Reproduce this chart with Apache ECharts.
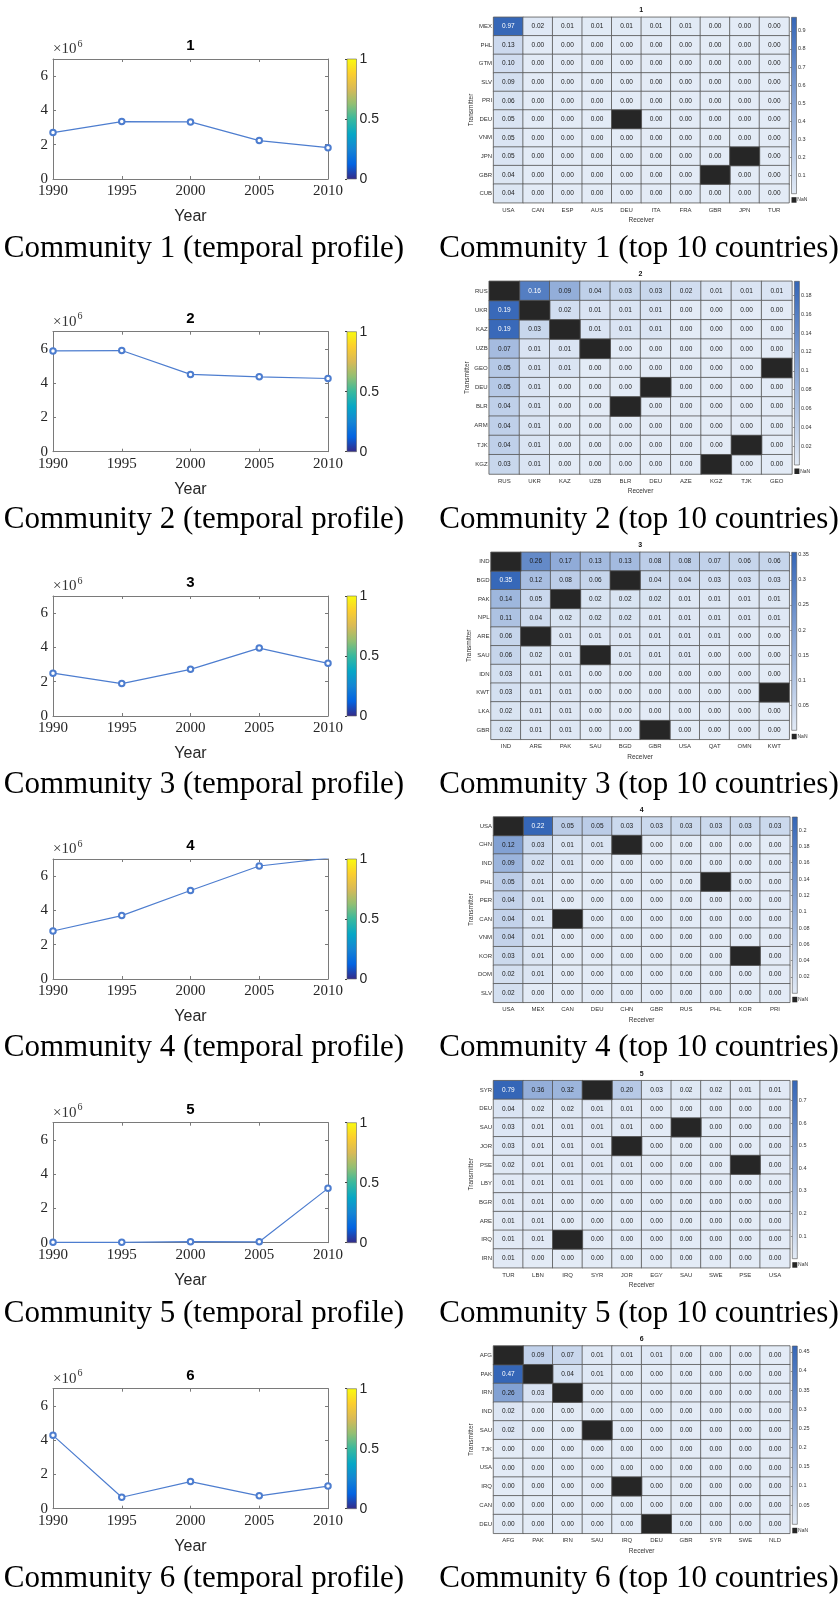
<!DOCTYPE html>
<html><head><meta charset="utf-8">
<script src="https://cdn.jsdelivr.net/npm/echarts@6/dist/echarts.min.js"></script>
<style>html,body{margin:0;padding:0;background:#fff}#c{width:839px;height:1598px}</style>
</head><body><div id="c"></div>
<script>
// ---------- DATA ----------
const years = [1990, 1995, 2000, 2005, 2010];
// temporal profiles (x10^6)
const profile1 = [2.71, 3.35, 3.33, 2.24, 1.83];
const profile2 = [5.88, 5.90, 4.51, 4.37, 4.27];
const profile3 = [2.50, 1.89, 2.72, 3.96, 3.07];
const profile4 = [2.80, 3.70, 5.16, 6.59, 7.05];
const profile5 = [0.02, 0.02, 0.06, 0.05, 3.17];
const profile6 = [4.28, 0.67, 1.58, 0.75, 1.32];

const rows1 = ['MEX','PHL','GTM','SLV','PRI','DEU','VNM','JPN','GBR','CUB'];
const cols1 = ['USA','CAN','ESP','AUS','DEU','ITA','FRA','GBR','JPN','TUR'];
const vals1 = [
 [0.97,0.02,0.01,0.01,0.01,0.01,0.01,0.00,0.00,0.00],
 [0.13,0,0,0,0,0,0,0,0,0],
 [0.10,0,0,0,0,0,0,0,0,0],
 [0.09,0,0,0,0,0,0,0,0,0],
 [0.06,0,0,0,0,0,0,0,0,0],
 [0.05,0,0,0,null,0,0,0,0,0],
 [0.05,0,0,0,0,0,0,0,0,0],
 [0.05,0,0,0,0,0,0,0,null,0],
 [0.04,0,0,0,0,0,0,null,0,0],
 [0.04,0,0,0,0,0,0,0,0,0]];

const rows2 = ['RUS','UKR','KAZ','UZB','GEO','DEU','BLR','ARM','TJK','KGZ'];
const cols2 = ['RUS','UKR','KAZ','UZB','BLR','DEU','AZE','KGZ','TJK','GEO'];
const vals2 = [
 [null,0.16,0.09,0.04,0.03,0.03,0.02,0.01,0.01,0.01],
 [0.19,null,0.02,0.01,0.01,0.01,0,0,0,0],
 [0.19,0.03,null,0.01,0.01,0.01,0,0,0,0],
 [0.07,0.01,0.01,null,0,0,0,0,0,0],
 [0.05,0.01,0.01,0,0,0,0,0,0,null],
 [0.05,0.01,0,0,0,null,0,0,0,0],
 [0.04,0.01,0,0,null,0,0,0,0,0],
 [0.04,0.01,0,0,0,0,0,0,0,0],
 [0.04,0.01,0,0,0,0,0,0,null,0],
 [0.03,0.01,0,0,0,0,0,null,0,0]];

const rows3 = ['IND','BGD','PAK','NPL','ARE','SAU','IDN','KWT','LKA','GBR'];
const cols3 = ['IND','ARE','PAK','SAU','BGD','GBR','USA','QAT','OMN','KWT'];
const vals3 = [
 [null,0.26,0.17,0.13,0.13,0.08,0.08,0.07,0.06,0.06],
 [0.35,0.12,0.08,0.06,null,0.04,0.04,0.03,0.03,0.03],
 [0.14,0.05,null,0.02,0.02,0.02,0.01,0.01,0.01,0.01],
 [0.11,0.04,0.02,0.02,0.02,0.01,0.01,0.01,0.01,0.01],
 [0.06,null,0.01,0.01,0.01,0.01,0.01,0.01,0,0],
 [0.06,0.02,0.01,null,0.01,0.01,0.01,0,0,0],
 [0.03,0.01,0.01,0,0,0,0,0,0,0],
 [0.03,0.01,0.01,0,0,0,0,0,0,null],
 [0.02,0.01,0.01,0,0,0,0,0,0,0],
 [0.02,0.01,0.01,0,0,null,0,0,0,0]];

const rows4 = ['USA','CHN','IND','PHL','PER','CAN','VNM','KOR','DOM','SLV'];
const cols4 = ['USA','MEX','CAN','DEU','CHN','GBR','RUS','PHL','KOR','PRI'];
const vals4 = [
 [null,0.22,0.05,0.05,0.03,0.03,0.03,0.03,0.03,0.03],
 [0.12,0.03,0.01,0.01,null,0,0,0,0,0],
 [0.09,0.02,0.01,0,0,0,0,0,0,0],
 [0.05,0.01,0,0,0,0,0,null,0,0],
 [0.04,0.01,0,0,0,0,0,0,0,0],
 [0.04,0.01,null,0,0,0,0,0,0,0],
 [0.04,0.01,0,0,0,0,0,0,0,0],
 [0.03,0.01,0,0,0,0,0,0,null,0],
 [0.02,0.01,0,0,0,0,0,0,0,0],
 [0.02,0,0,0,0,0,0,0,0,0]];

const rows5 = ['SYR','DEU','SAU','JOR','PSE','LBY','BGR','ARE','IRQ','IRN'];
const cols5 = ['TUR','LBN','IRQ','SYR','JOR','EGY','SAU','SWE','PSE','USA'];
const vals5 = [
 [0.79,0.36,0.32,null,0.20,0.03,0.02,0.02,0.01,0.01],
 [0.04,0.02,0.02,0.01,0.01,0,0,0,0,0],
 [0.03,0.01,0.01,0.01,0.01,0,null,0,0,0],
 [0.03,0.01,0.01,0.01,null,0,0,0,0,0],
 [0.02,0.01,0.01,0.01,0.01,0,0,0,null,0],
 [0.01,0.01,0.01,0.01,0,0,0,0,0,0],
 [0.01,0.01,0,0,0,0,0,0,0,0],
 [0.01,0.01,0,0,0,0,0,0,0,0],
 [0.01,0.01,null,0,0,0,0,0,0,0],
 [0.01,0,0,0,0,0,0,0,0,0]];

const rows6 = ['AFG','PAK','IRN','IND','SAU','TJK','USA','IRQ','CAN','DEU'];
const cols6 = ['AFG','PAK','IRN','SAU','IRQ','DEU','GBR','SYR','SWE','NLD'];
const vals6 = [
 [null,0.09,0.07,0.01,0.01,0.01,0,0,0,0],
 [0.47,null,0.04,0.01,0,0,0,0,0,0],
 [0.26,0.03,null,0,0,0,0,0,0,0],
 [0.02,0,0,0,0,0,0,0,0,0],
 [0.02,0,0,null,0,0,0,0,0,0],
 [0,0,0,0,0,0,0,0,0,0],
 [0,0,0,0,0,0,0,0,0,0],
 [0,0,0,0,null,0,0,0,0,0],
 [0,0,0,0,0,0,0,0,0,0],
 [0,0,0,0,0,null,0,0,0,0]];

// colour-bar ranges and tick steps
const cbMax = [0.975, 0.195, 0.355, 0.216, 0.788, 0.465];
const cbStep = [0.1, 0.02, 0.05, 0.02, 0.1, 0.05];
const yTickLabels = [0, 2, 4, 6];

// ---------- LAYOUT ----------
const profiles = [profile1, profile2, profile3, profile4, profile5, profile6];
const hmRows = [rows1, rows2, rows3, rows4, rows5, rows6];
const hmCols = [cols1, cols2, cols3, cols4, cols5, cols6];
const hmVals = [vals1, vals2, vals3, vals4, vals5, vals6];

const L = {
  lineLeft: 53, lineWidth: 275, lineHeight: 120,
  lineTop: [59, 331.7, 596, 859, 1122.7, 1388.7],
  lineCbLeft: 347, lineCbWidth: 9.5,
  hm: [
    {l: 493.6, r: 789.0, t: 17.3,   b: 202.7},
    {l: 489.2, r: 791.9, t: 281.3,  b: 474.0},
    {l: 491.0, r: 789.2, t: 552.3,  b: 739.3},
    {l: 493.5, r: 789.8, t: 817.0,  b: 1002.3},
    {l: 493.5, r: 789.8, t: 1080.7, b: 1267.7},
    {l: 493.5, r: 789.8, t: 1346.0, b: 1533.3}
  ]
};
const SANS = '"Liberation Sans", Arial, Helvetica, sans-serif';
const SERIF = '"Liberation Serif", "Times New Roman", serif';
const LINE_COLOR = '#4d7dcf';
const C_LOW = '#e3ebf6', C_HIGH = '#3566b7';
const BOX = '#7a7a7a';
const parula = [
  {offset: 0, color: '#f9fb0e'}, {offset: 0.125, color: '#fcce2e'},
  {offset: 0.25, color: '#d9ba56'}, {offset: 0.375, color: '#92bf73'},
  {offset: 0.5, color: '#38b99e'}, {offset: 0.625, color: '#06a7c6'},
  {offset: 0.75, color: '#1485d4'}, {offset: 0.875, color: '#0363e1'},
  {offset: 1, color: '#352a87'}
];

const grid = [], xAxis = [], yAxis = [], series = [], visualMap = [], graphic = [];
const nanSeries = [];

function txt(x, y, text, style, extra) {
  graphic.push(Object.assign({type: 'text', x: x, y: y, silent: true,
    style: Object.assign({text: text, fill: '#000', textAlign: 'center', textVerticalAlign: 'middle'}, style)}, extra || {}));
}

for (let k = 0; k < 6; k++) {
  const top = L.lineTop[k];
  // ---- line chart ----
  const gL = grid.length;
  grid.push({left: L.lineLeft, top: top, width: L.lineWidth, height: L.lineHeight, outerBoundsMode: 'none'});
  const axLine = {show: true, onZero: false, lineStyle: {color: BOX, width: 1}};
  const axTick = {show: true, inside: true, length: 3, lineStyle: {color: BOX, width: 1}};
  const xb = xAxis.length;
  xAxis.push({gridIndex: gL, type: 'value', min: 1990, max: 2010, interval: 5, position: 'bottom',
    axisLine: axLine, axisTick: axTick, splitLine: {show: false},
    axisLabel: {fontFamily: SERIF, fontSize: 15, color: '#262626', margin: 5, formatter: v => String(v)}});
  xAxis.push({gridIndex: gL, type: 'value', min: 1990, max: 2010, interval: 5, position: 'top',
    axisLine: axLine, axisTick: axTick, splitLine: {show: false}, axisLabel: {show: false}});
  const yl = yAxis.length;
  yAxis.push({gridIndex: gL, type: 'value', min: 0, max: 7, interval: 2, position: 'left',
    axisLine: axLine, axisTick: axTick, splitLine: {show: false},
    axisLabel: {fontFamily: SERIF, fontSize: 15, color: '#262626', margin: 5, showMaxLabel: false,
      formatter: v => yTickLabels.indexOf(v) >= 0 ? String(v) : ''}});
  yAxis.push({gridIndex: gL, type: 'value', min: 0, max: 7, interval: 2, position: 'right',
    axisLine: axLine, axisTick: axTick, splitLine: {show: false}, axisLabel: {show: false}});
  series.push({type: 'line', xAxisIndex: xb, yAxisIndex: yl,
    data: years.map((yr, i) => [yr, profiles[k][i]]),
    symbol: 'emptyCircle', symbolSize: 5.5, animation: false, silent: true,
    lineStyle: {color: LINE_COLOR, width: 1.2}, itemStyle: {color: LINE_COLOR, borderWidth: 1.2}});

  // line colour bar (parula 0..1)
  const gC = grid.length;
  grid.push({left: L.lineCbLeft, top: top, width: L.lineCbWidth, height: L.lineHeight, show: true,
    outerBoundsMode: 'none',
    backgroundColor: {type: 'linear', x: 0, y: 0, x2: 0, y2: 1, colorStops: parula},
    borderColor: '#666', borderWidth: 0.6});
  xAxis.push({gridIndex: gC, type: 'value', min: 0, max: 1, show: false});
  yAxis.push({gridIndex: gC, type: 'value', min: 0, max: 1, interval: 0.5, position: 'right',
    axisLine: {show: false}, splitLine: {show: false},
    axisTick: {show: true, inside: true, length: 2, lineStyle: {color: '#444'}},
    axisLabel: {fontFamily: SANS, fontSize: 14, color: '#262626', margin: 3}});

  // texts around line chart
  const cx = L.lineLeft + L.lineWidth / 2;
  txt(cx, top - 13, String(k + 1), {fontFamily: SANS, fontSize: 15, fontWeight: 'bold', fill: '#000'});
  txt(L.lineLeft, top - 10, '\u00d710', {fontFamily: SERIF, fontSize: 15, fill: '#333', textAlign: 'left'});
  txt(L.lineLeft + 24.5, top - 15, '6', {fontFamily: SERIF, fontSize: 10, fill: '#333', textAlign: 'left'});
  txt(cx, top + L.lineHeight + 38, 'Year', {fontFamily: SANS, fontSize: 16, fill: '#262626'});

  // ---- heatmap ----
  const h = L.hm[k];
  const mx = cbMax[k];
  const gH = grid.length;
  grid.push({left: h.l, top: h.t, width: h.r - h.l, height: h.b - h.t, outerBoundsMode: 'none'});
  const xh = xAxis.length;
  xAxis.push({gridIndex: gH, type: 'category', data: hmCols[k], position: 'bottom',
    axisLine: {show: false}, axisTick: {show: false}, splitLine: {show: false}, splitArea: {show: false},
    axisLabel: {interval: 0, fontFamily: SANS, fontSize: 6, color: '#333', margin: 4.5}});
  const yh = yAxis.length;
  yAxis.push({gridIndex: gH, type: 'category', data: hmRows[k], inverse: true,
    axisLine: {show: false}, axisTick: {show: false}, splitLine: {show: false}, splitArea: {show: false},
    axisLabel: {interval: 0, fontFamily: SANS, fontSize: 6, color: '#333', margin: 1.5}});
  const vData = [], nData = [];
  hmVals[k].forEach((row, j) => row.forEach((v, i) => {
    if (v === null) nData.push([i, j, 1]);
    else vData.push({value: [i, j, v], label: {color: v >= 0.8 * mx ? '#ffffff' : '#1a1a1a'}});
  }));
  const sv = series.length;
  series.push({type: 'heatmap', xAxisIndex: xh, yAxisIndex: yh, data: vData, animation: false, silent: true,
    itemStyle: {borderColor: '#555', borderWidth: 0.8},
    label: {show: true, fontFamily: SANS, fontSize: 6.5, formatter: p => p.value[2].toFixed(2)},
    emphasis: {disabled: true}});
  visualMap.push({type: 'continuous', show: false, min: 0, max: mx, dimension: 2, seriesIndex: sv,
    inRange: {color: [C_LOW, C_HIGH]}});
  nanSeries.push(series.length);
  series.push({type: 'heatmap', xAxisIndex: xh, yAxisIndex: yh, data: nData, animation: false, silent: true,
    itemStyle: {borderColor: '#555', borderWidth: 0.8}, label: {show: false}, emphasis: {disabled: true}});

  // heatmap colour bar
  const cbL = h.r + 2.5, cbT = h.t, cbB = h.b - 9;
  const gB = grid.length;
  grid.push({left: cbL, top: cbT, width: 5, height: cbB - cbT, show: true, outerBoundsMode: 'none',
    backgroundColor: {type: 'linear', x: 0, y: 0, x2: 0, y2: 1,
      colorStops: [{offset: 0, color: C_HIGH}, {offset: 1, color: C_LOW}]},
    borderColor: '#555', borderWidth: 0.6});
  xAxis.push({gridIndex: gB, type: 'value', min: 0, max: 1, show: false});
  yAxis.push({gridIndex: gB, type: 'value', min: 0, max: mx, interval: cbStep[k], position: 'right',
    axisLine: {show: false}, splitLine: {show: false},
    axisTick: {show: true, inside: true, length: 1.5, lineStyle: {color: '#555', width: 0.6}},
    axisLabel: {fontFamily: SANS, fontSize: 5.5, color: '#333', margin: 1.5, showMinLabel: false, showMaxLabel: false,
      formatter: v => String(+v.toFixed(3))}});
  graphic.push({type: 'rect', silent: true, shape: {x: cbL, y: h.b - 5.5, width: 5, height: 5.5},
    style: {fill: '#262626'}});
  txt(cbL + 5.8, h.b - 2.7, 'NaN', {fontFamily: SANS, fontSize: 5, fill: '#333', textAlign: 'left'});

  const hx = (h.l + h.r) / 2, hy = (h.t + h.b) / 2;
  txt(hx, h.t - 7, String(k + 1), {fontFamily: SANS, fontSize: 7, fontWeight: 'bold', fill: '#111'});
  txt(hx, h.b + 17.5, 'Receiver', {fontFamily: SANS, fontSize: 6.5, fill: '#333'});
  txt(h.l - 22, hy, 'Transmitter', {fontFamily: SANS, fontSize: 6.5, fill: '#333'}, {rotation: Math.PI / 2});

  // captions
  const capY = h.b + 46;
  txt(204, capY, 'Community ' + (k + 1) + ' (temporal profile)', {fontFamily: SERIF, fontSize: 31, fill: '#000'});
  txt(639, capY, 'Community ' + (k + 1) + ' (top 10 countries)', {fontFamily: SERIF, fontSize: 31, fill: '#000'});
}

visualMap.push({type: 'piecewise', show: false, dimension: 2, seriesIndex: nanSeries,
  pieces: [{min: 0, max: 2}], inRange: {color: ['#262626']}});

const chart = echarts.init(document.getElementById('c'), null, {renderer: 'canvas'});
chart.setOption({
  backgroundColor: '#ffffff',
  animation: false,
  grid: grid, xAxis: xAxis, yAxis: yAxis, series: series, visualMap: visualMap, graphic: graphic
});
</script>
</body></html>
